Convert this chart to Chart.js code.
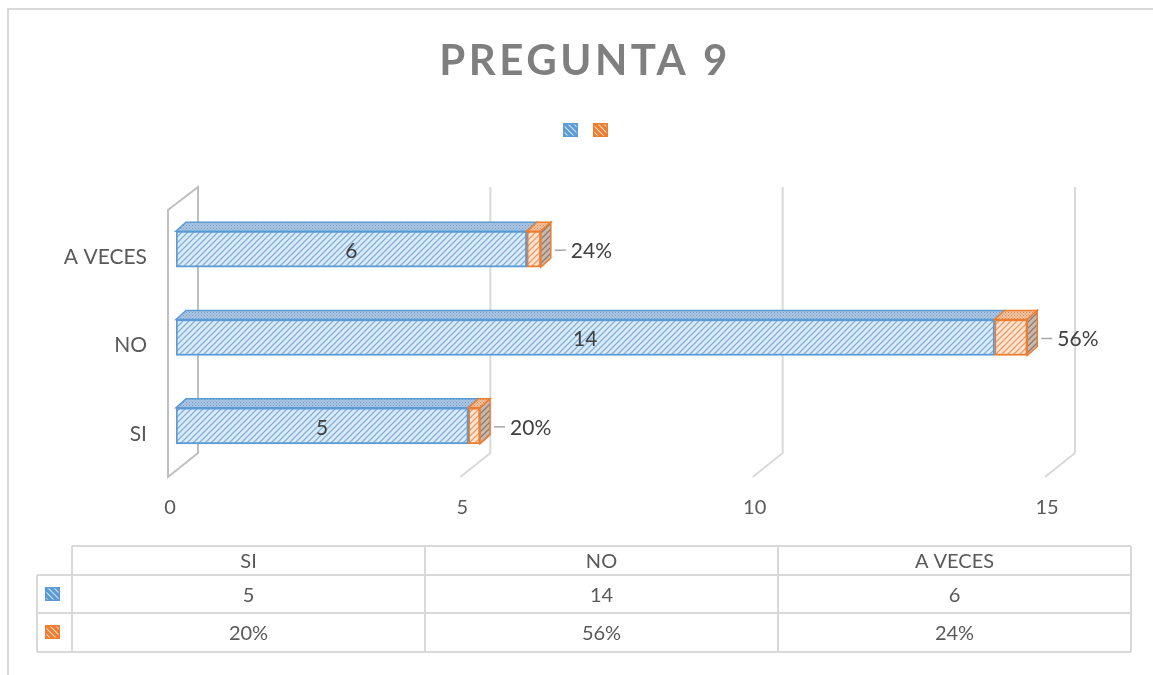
<!DOCTYPE html>
<html>
<head>
<meta charset="utf-8">
<script src="https://cdn.jsdelivr.net/npm/chart.js@4.4.1/dist/chart.umd.min.js"></script>
<style>
  html, body { margin: 0; padding: 0; background: #fff; }
  #grafico { display: block; }
</style>
</head>
<body>
<canvas id="grafico" width="1153" height="675"></canvas>
<script>
// grafico pregunta 9

var categorias = ['SI', 'NO', 'A VECES'];
var cantidades = [5, 14, 6];
var porcentajes = [0.20, 0.56, 0.24];
var ticksX = [0, 5, 10, 15];
var titulo = 'PREGUNTA 9';

var fuente = 'Lato, "Open Sans", sans-serif';
var gris = '#595959';
var lineaGris = '#d9d9d9';
var prof = { dx: 10, dy: -9 };

var ctxBase = document.getElementById('grafico').getContext('2d');

function rayado(fondo, linea, ancho, inverso) {
    var c = document.createElement('canvas');
    c.width = 6; c.height = 6;
    var g = c.getContext('2d');
    g.fillStyle = fondo;
    g.fillRect(0, 0, 6, 6);
    g.strokeStyle = linea;
    g.lineWidth = ancho;
    g.beginPath();
    if (inverso) {
        g.moveTo(-1, -1); g.lineTo(7, 7);
        g.moveTo(5, -1); g.lineTo(7, 1);
        g.moveTo(-1, 5); g.lineTo(1, 7);
    } else {
        g.moveTo(-1, 7); g.lineTo(7, -1);
        g.moveTo(-1, 1); g.lineTo(1, -1);
        g.moveTo(5, 7); g.lineTo(7, 5);
    }
    g.stroke();
    return ctxBase.createPattern(c, 'repeat');
}

function punteado(fondo, punto) {
    var c = document.createElement('canvas');
    c.width = 3; c.height = 3;
    var g = c.getContext('2d');
    g.fillStyle = fondo;
    g.fillRect(0, 0, 3, 3);
    g.fillStyle = punto;
    g.fillRect(0, 0, 1, 1);
    g.fillRect(1.5, 1.5, 1, 1);
    return ctxBase.createPattern(c, 'repeat');
}

var bordes = ['#5b9bd5', '#ed7d31'];
var frentes = [rayado('#ddebf7', '#7fb0de', 1.3), rayado('#fbe5d6', '#f19a5c', 1.3)];
var techos = [punteado('#adc8e6', '#7396c0'), punteado('#f6c4a1', '#c8875a')];
var lado = rayado('#c7b9ae', '#8c7b70', 1.3);
var iconos = [rayado('#5b9bd5', '#cfe2f3', 1.2, true), rayado('#ed7d31', '#fbd9c2', 1.2, true)];

var tercera = {
    id: 'tercera',
    beforeDatasetsDraw: function (chart) {
        var ctx = chart.ctx, a = chart.chartArea, sx = chart.scales.x;
        ctx.save();
        ctx.lineWidth = 2;
        ticksX.forEach(function (v) {
            var px = sx.getPixelForValue(v);
            ctx.strokeStyle = v === 0 ? '#bfbfbf' : lineaGris;
            ctx.beginPath();
            ctx.moveTo(px + 22, a.top - 18);
            ctx.lineTo(px + 22, a.bottom - 17);
            ctx.lineTo(px - 8, a.bottom + 7);
            if (v === 0) {
                ctx.lineTo(px - 8, a.top + 5);
                ctx.closePath();
            }
            ctx.stroke();
        });
        ctx.restore();
    },
    afterDatasetsDraw: function (chart) {
        var ctx = chart.ctx;
        var ultimo = chart.data.datasets.length - 1;
        ctx.save();
        ctx.lineWidth = 1.5;
        chart.data.datasets.forEach(function (ds, i) {
            chart.getDatasetMeta(i).data.forEach(function (bar, j) {
                var p = bar.getProps(['x', 'y', 'base', 'height'], true);
                var x0 = p.base, x1 = p.x;
                var arriba = p.y - p.height / 2, abajo = p.y + p.height / 2;
                ctx.fillStyle = techos[i];
                ctx.strokeStyle = bordes[i];
                ctx.beginPath();
                ctx.moveTo(x0, arriba);
                ctx.lineTo(x0 + prof.dx, arriba + prof.dy);
                ctx.lineTo(x1 + prof.dx, arriba + prof.dy);
                ctx.lineTo(x1, arriba);
                ctx.closePath();
                ctx.fill();
                ctx.stroke();
                if (i === ultimo) {
                    ctx.fillStyle = lado;
                    ctx.beginPath();
                    ctx.moveTo(x1, arriba);
                    ctx.lineTo(x1 + prof.dx, arriba + prof.dy);
                    ctx.lineTo(x1 + prof.dx, abajo + prof.dy);
                    ctx.lineTo(x1, abajo);
                    ctx.closePath();
                    ctx.fill();
                    ctx.stroke();
                }
            });
        });

        // etiquetas
        ctx.font = '21px ' + fuente;
        ctx.fillStyle = '#404040';
        ctx.textBaseline = 'middle';
        chart.getDatasetMeta(0).data.forEach(function (bar, j) {
            var p = bar.getProps(['x', 'y', 'base'], true);
            ctx.textAlign = 'center';
            ctx.fillText(String(cantidades[j]), (p.base + p.x) / 2, p.y + 2);
        });
        chart.getDatasetMeta(1).data.forEach(function (bar, j) {
            var p = bar.getProps(['x', 'y'], true);
            ctx.strokeStyle = '#a6a6a6';
            ctx.lineWidth = 1.5;
            ctx.beginPath();
            ctx.moveTo(p.x + 14, p.y + 1);
            ctx.lineTo(p.x + 25, p.y + 1);
            ctx.stroke();
            ctx.textAlign = 'left';
            ctx.fillText(Math.round(porcentajes[j] * 100) + '%', p.x + 30, p.y + 2);
        });
        ctx.restore();
    }
};

var adornos = {
    id: 'adornos',
    afterDraw: function (chart) {
        var ctx = chart.ctx;
        ctx.save();

        // marco
        ctx.strokeStyle = lineaGris;
        ctx.lineWidth = 2;
        ctx.beginPath();
        ctx.moveTo(8, 676);
        ctx.lineTo(8, 9);
        ctx.lineTo(1153, 9);
        ctx.stroke();

        // titulo
        ctx.font = 'bold 42px ' + fuente;
        ctx.fillStyle = '#7f7f7f';
        ctx.textAlign = 'center';
        ctx.textBaseline = 'alphabetic';
        ctx.letterSpacing = '3.5px';
        ctx.fillText(titulo, 585, 75);
        ctx.letterSpacing = '0px';

        // leyenda
        function icono(x, y, i) {
            ctx.fillStyle = iconos[i];
            ctx.fillRect(x, y, 15, 14);
            ctx.strokeStyle = bordes[i];
            ctx.lineWidth = 1.5;
            ctx.strokeRect(x + 0.75, y + 0.75, 13.5, 12.5);
        }
        icono(563, 123, 0);
        icono(593, 123, 1);

        // tabla de datos
        var cols = [72, 425, 778, 1131];
        var filas = [546, 575, 613, 652];
        ctx.strokeStyle = lineaGris;
        ctx.lineWidth = 2;
        ctx.beginPath();
        ctx.moveTo(72, filas[0]); ctx.lineTo(1131, filas[0]);
        ctx.moveTo(37, filas[1]); ctx.lineTo(1131, filas[1]);
        ctx.moveTo(37, filas[2]); ctx.lineTo(1131, filas[2]);
        ctx.moveTo(37, filas[3]); ctx.lineTo(1131, filas[3]);
        ctx.moveTo(37, filas[1]); ctx.lineTo(37, filas[3]);
        cols.forEach(function (c) {
            ctx.moveTo(c, filas[0]); ctx.lineTo(c, filas[3]);
        });
        ctx.stroke();

        ctx.font = '20px ' + fuente;
        ctx.fillStyle = gris;
        ctx.textAlign = 'center';
        ctx.textBaseline = 'middle';
        categorias.forEach(function (cat, k) {
            var cx = (cols[k] + cols[k + 1]) / 2;
            ctx.fillText(cat, cx, 562);
            ctx.fillText(String(cantidades[k]), cx, 596);
            ctx.fillText(Math.round(porcentajes[k] * 100) + '%', cx, 634);
        });
        icono(45, 587, 0);
        icono(45, 625, 1);

        ctx.restore();
    }
};

new Chart('grafico', {
    type: 'bar',
    data: {
        labels: categorias,
        datasets: [{
            label: '',
            data: cantidades,
            backgroundColor: frentes[0],
            borderColor: bordes[0],
            borderWidth: 2,
            borderSkipped: false,
            barThickness: 36
        }, {
            label: '',
            data: porcentajes,
            backgroundColor: frentes[1],
            borderColor: bordes[1],
            borderWidth: 2,
            borderSkipped: false,
            barThickness: 36
        }]
    },
    options: {
        indexAxis: 'y',
        responsive: false,
        animation: false,
        layout: {
            padding: { top: 205, right: 100, bottom: 145, left: 0 }
        },
        plugins: {
            legend: { display: false },
            title: { display: false },
            tooltip: { enabled: false }
        },
        scales: {
            x: {
                stacked: true,
                min: 0,
                max: 15,
                ticks: {
                    stepSize: 5,
                    padding: 26,
                    labelOffset: -6,
                    color: gris,
                    font: { size: 20, family: fuente }
                },
                grid: { display: false, drawTicks: false },
                border: { display: false },
                afterFit: function (s) { s.height = 60; }
            },
            y: {
                stacked: true,
                reverse: true,
                ticks: {
                    padding: 29,
                    labelOffset: 8,
                    color: gris,
                    font: { size: 21, family: fuente }
                },
                grid: { display: false, drawTicks: false },
                border: { display: false },
                afterFit: function (s) { s.width = 176; }
            }
        }
    },
    plugins: [tercera, adornos]
});
</script>
</body>
</html>
